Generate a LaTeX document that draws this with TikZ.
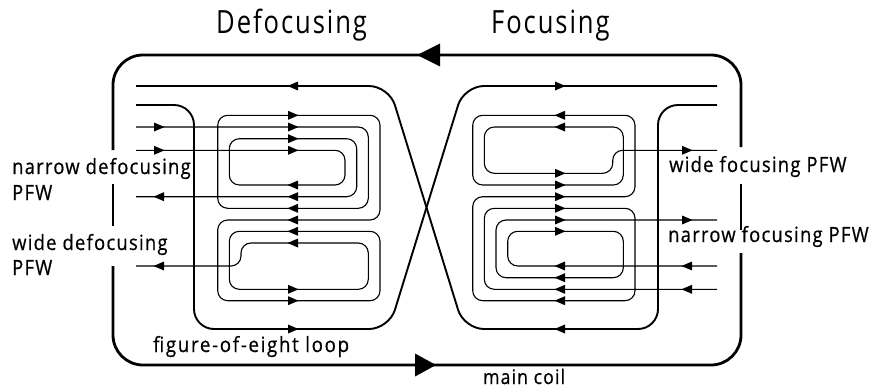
\documentclass[tikz,border=0pt]{standalone}
\usepackage{fontspec}
\usepackage{tikz}
\usetikzlibrary{arrows.meta}
\setmainfont[LetterSpace=6,FakeStretch=0.875,FakeBold=0.6]{Open Sans}
\newfontfamily\titlefont[LetterSpace=6,FakeStretch=0.8]{Open Sans}
\newfontfamily\loopfont[LetterSpace=8,FakeStretch=0.89,FakeBold=0.6]{Open Sans}
\tikzset{
    maincoil/.style={line width=2.8pt, rounded corners=30pt},
    loopwire/.style={line width=1.9pt, rounded corners=20pt},
    pfwire/.style={line width=1.1pt, rounded corners=10pt},
    labeltext/.style={font=\fontsize{21}{26}\selectfont, anchor=base west, inner sep=0pt},
    titletext/.style={font=\titlefont\fontsize{32}{36}\selectfont, anchor=base west, inner sep=0pt},
}
\newcommand{\tipright}[2]{\fill (#1-5,#2-4.5) -- (#1+5.5,#2) -- (#1-5,#2+4.5) -- cycle;}
\newcommand{\tipleft}[2]{\fill (#1+5,#2-4.5) -- (#1-5.5,#2) -- (#1+5,#2+4.5) -- cycle;}

\begin{document}
\begin{tikzpicture}[x=1pt,y=-1pt]
    \useasboundingbox (0,0) rectangle (873,388);
    % Main coil
    \draw[maincoil] (113,150) -- (113,55) -- (741,55) -- (741,147);
    \draw[maincoil] (741,184) -- (741,230);
    \draw[maincoil] (741,253) -- (741,365) -- (113,365) -- (113,266);
    \draw[maincoil] (113,184) -- (113,226);
    \fill (440,43.5) -- (417,55) -- (440,66.5) -- cycle;
    \fill (415,353.5) -- (436,365) -- (415,376.5) -- cycle;
    % Figure-of-eight loop
    \draw[loopwire] (136,86) -- (389,86) -- (464,329) -- (658,329) -- (658,105) -- (717,105);
    \draw[loopwire] (717,86) -- (464,86) -- (389,329) -- (194,329) -- (194,105) -- (136,105);
    \tipleft{293}{86}
    \tipright{293}{329}
    \tipright{560}{86}
    \tipleft{560}{329}
    % Defocusing PFW
    \draw[pfwire] (136,150.3) -- (345,150.3) -- (345,185) -- (229.3,185) -- (229.3,138.7) -- (356.7,138.7) -- (356.7,196.7) -- (136,196.7);
    \draw[pfwire] (136,127) -- (368.3,127) -- (368.3,208.3) -- (217.7,208.3) -- (217.7,115.3) -- (380,115.3) -- (380,220) -- (217.7,220) -- (217.7,300.7) -- (380,300.7) -- (380,231.3) -- (229.3,231.3) -- (229.3,289.3) -- (368.3,289.3) -- (368.3,243) -- (241,243) -- (241,266) -- (136,266);
    \foreach \y in {115.3,127,138.7,150.3,289.3,300.7}
        {\tipright{293}{\y}}
    \foreach \y in {185,196.7,208.3,220,231.3,243}
        {\tipleft{293}{\y}}
    \foreach \y in {127,150.3}
        {\tipright{159}{\y}}
    \foreach \y in {196.7,266}
        {\tipleft{159}{\y}}
    % Focusing PFW
    \draw[pfwire] (717,150.3) -- (612.7,150.3) -- (612.7,173.3) -- (484.3,173.3) -- (484.3,127) -- (623.3,127) -- (623.3,185) -- (472.7,185) -- (472.7,115.3) -- (635,115.3) -- (635,196.7) -- (472.7,196.7) -- (472.7,300.7) -- (635,300.7) -- (635,208.3) -- (484.3,208.3) -- (484.3,289.3) -- (717,289.3);
    \draw[pfwire] (717,220) -- (496,220) -- (496,277.7) -- (623.3,277.7) -- (623.3,231.3) -- (507.7,231.3) -- (507.7,266) -- (717,266);
    \foreach \y in {173.3,185,196.7,208.3,220,231.3}
        {\tipright{560}{\y}}
    \foreach \y in {115.3,127,266,277.7,289.3,300.7}
        {\tipleft{560}{\y}}
    \foreach \y in {150.3,220}
        {\tipright{687}{\y}}
    \foreach \y in {266,289.3}
        {\tipleft{687}{\y}}
    % Labels
    \node[titletext] (defocusing) at (216,34) {Defocusing};
    \node[titletext] (focusing) at (491,34) {Focusing};
    \node[labeltext] (narrowdef) at (12,174) {narrow defocusing};
    \node[labeltext] (narrowpfw) at (12,200) {PFW};
    \node[labeltext] (widedef) at (12,250) {wide defocusing};
    \node[labeltext] (widepfw) at (12,275) {PFW};
    \node[labeltext] (widefoc) at (669,172) {wide focusing PFW};
    \node[labeltext] (narrowfoc) at (668,242) {narrow focusing PFW};
    \node[labeltext, font=\loopfont\fontsize{21}{26}\selectfont] (eightloop) at (153,352) {figure-of-eight loop};
    \node[labeltext, font=\fontsize{20}{24}\selectfont] (maincoilname) at (483,384) {main coil};
\end{tikzpicture}
\end{document}
